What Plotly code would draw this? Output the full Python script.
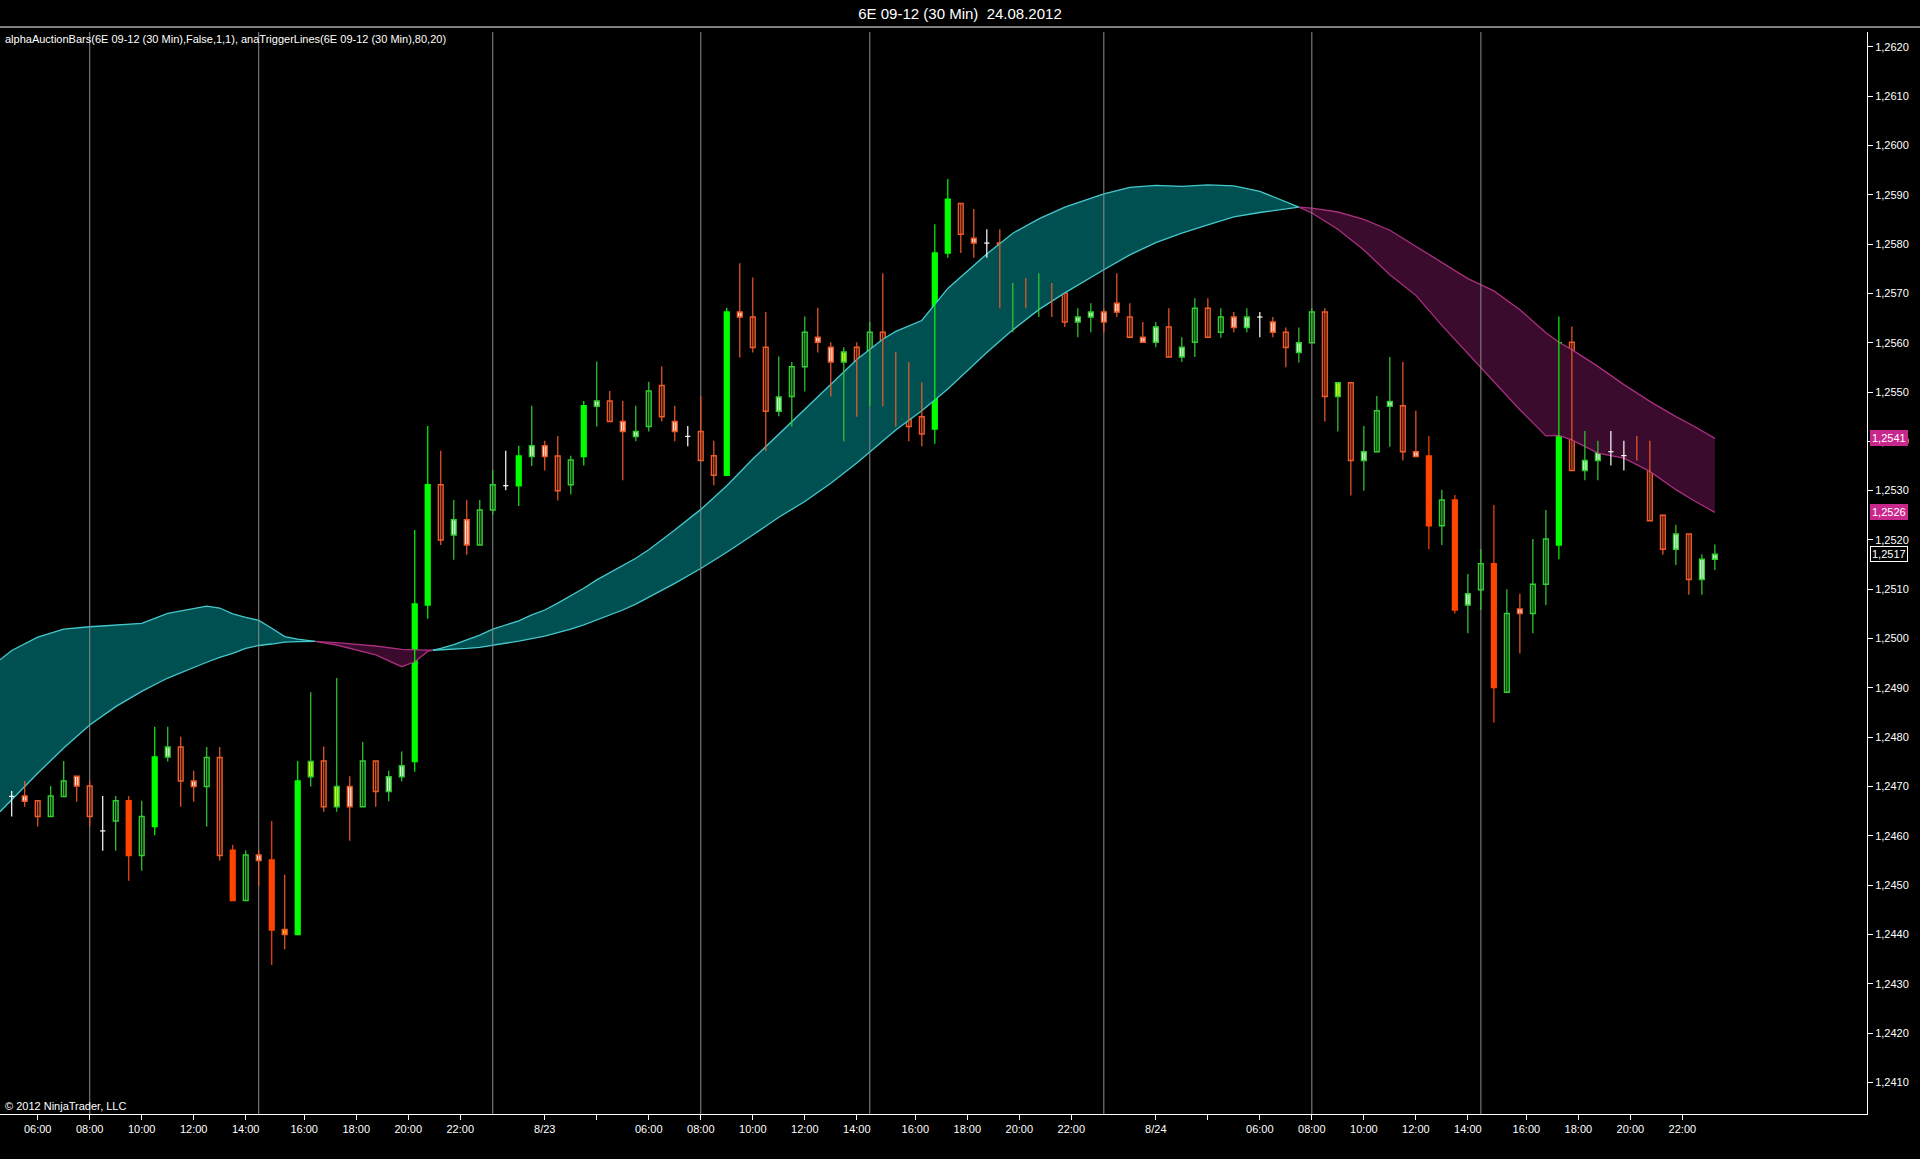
import plotly.graph_objects as go

# ---- data (30 min bars, index 0 = 22.08 05:00) ----
opens = [1.24680, 1.24681, 1.24671, 1.24639, 1.24680, 1.24721, 1.24701, 1.24610, 1.24630, 1.24671,
         1.24560, 1.24619, 1.24760, 1.24780, 1.24711, 1.24700, 1.24759, 1.24571, 1.24469, 1.24561,
         1.24551, 1.24410, 1.24400, 1.24720, 1.24752, 1.24659, 1.24700, 1.24659, 1.24752, 1.24690,
         1.24720, 1.24751, 1.25068, 1.25312, 1.25210, 1.25241, 1.25190, 1.25261, 1.25310, 1.25310,
         1.25369, 1.25391, 1.25370, 1.25312, 1.25369, 1.25471, 1.25482, 1.25440, 1.25410, 1.25430,
         1.25513, 1.25440, 1.25410, 1.25420, 1.25371, 1.25331, 1.25662, 1.25652, 1.25591, 1.25461,
         1.25491, 1.25551, 1.25611, 1.25591, 1.25561, 1.25591, 1.25491, 1.25621, 1.25561, 1.25502,
         1.25450, 1.25425, 1.25782, 1.25882, 1.25812, 1.25802, 1.25802, 1.25670, 1.25711, 1.25680,
         1.25711, 1.25701, 1.25642, 1.25652, 1.25662, 1.25680, 1.25652, 1.25611, 1.25601, 1.25632,
         1.25571, 1.25601, 1.25670, 1.25621, 1.25652, 1.25631, 1.25652, 1.25642, 1.25621, 1.25580,
         1.25600, 1.25662, 1.25491, 1.25519, 1.25361, 1.25379, 1.25471, 1.25472, 1.25379, 1.25370,
         1.25229, 1.25281, 1.25068, 1.25099, 1.25152, 1.24891, 1.25060, 1.25051, 1.25110, 1.25190,
         1.25601, 1.25341, 1.25361, 1.25379, 1.25371, 1.25379, 1.25370, 1.25250, 1.25181, 1.25212,
         1.25120, 1.25161]

highs = [1.24691, 1.24711, 1.24671, 1.24701, 1.24752, 1.24721, 1.24711, 1.24681, 1.24681, 1.24681,
         1.24671, 1.24821, 1.24821, 1.24801, 1.24732, 1.24780, 1.24780, 1.24582, 1.24571, 1.24571,
         1.24630, 1.24521, 1.24752, 1.24891, 1.24781, 1.24920, 1.24721, 1.24791, 1.24752, 1.24732,
         1.24771, 1.25220, 1.25431, 1.25381, 1.25281, 1.25281, 1.25281, 1.25342, 1.25381, 1.25391,
         1.25472, 1.25401, 1.25411, 1.25371, 1.25482, 1.25562, 1.25502, 1.25482, 1.25472, 1.25521,
         1.25552, 1.25472, 1.25431, 1.25492, 1.25401, 1.25671, 1.25761, 1.25732, 1.25662, 1.25572,
         1.25561, 1.25653, 1.25671, 1.25601, 1.25591, 1.25601, 1.25642, 1.25741, 1.25581, 1.25561,
         1.25520, 1.25840, 1.25932, 1.25882, 1.25871, 1.25830, 1.25830, 1.25721, 1.25731, 1.25741,
         1.25721, 1.25701, 1.25670, 1.25680, 1.25668, 1.25741, 1.25680, 1.25642, 1.25642, 1.25670,
         1.25611, 1.25690, 1.25690, 1.25670, 1.25662, 1.25670, 1.25662, 1.25652, 1.25631, 1.25631,
         1.25670, 1.25670, 1.25519, 1.25519, 1.25431, 1.25492, 1.25571, 1.25561, 1.25462, 1.25411,
         1.25302, 1.25291, 1.25131, 1.25181, 1.25271, 1.25100, 1.25091, 1.25202, 1.25261, 1.25653,
         1.25633, 1.25421, 1.25401, 1.25421, 1.25401, 1.25411, 1.25401, 1.25250, 1.25231, 1.25212,
         1.25171, 1.25191]

lows = [1.24639, 1.24659, 1.24619, 1.24639, 1.24680, 1.24669, 1.24619, 1.24570, 1.24570, 1.24509,
        1.24529, 1.24601, 1.24751, 1.24659, 1.24669, 1.24619, 1.24550, 1.24469, 1.24469, 1.24499,
        1.24338, 1.24370, 1.24400, 1.24700, 1.24649, 1.24649, 1.24590, 1.24659, 1.24659, 1.24670,
        1.24710, 1.24730, 1.25040, 1.25190, 1.25160, 1.25170, 1.25190, 1.25251, 1.25301, 1.25269,
        1.25350, 1.25341, 1.25280, 1.25292, 1.25351, 1.25430, 1.25440, 1.25321, 1.25400, 1.25420,
        1.25440, 1.25400, 1.25390, 1.25361, 1.25311, 1.25331, 1.25570, 1.25580, 1.25380, 1.25451,
        1.25430, 1.25501, 1.25580, 1.25491, 1.25400, 1.25450, 1.25471, 1.25471, 1.25430, 1.25400,
        1.25390, 1.25395, 1.25772, 1.25782, 1.25772, 1.25772, 1.25670, 1.25621, 1.25670, 1.25652,
        1.25652, 1.25632, 1.25611, 1.25621, 1.25621, 1.25652, 1.25611, 1.25601, 1.25591, 1.25571,
        1.25561, 1.25571, 1.25611, 1.25610, 1.25621, 1.25621, 1.25611, 1.25611, 1.25550, 1.25560,
        1.25600, 1.25440, 1.25420, 1.25290, 1.25300, 1.25379, 1.25389, 1.25361, 1.25369, 1.25181,
        1.25190, 1.25051, 1.25011, 1.25058, 1.24830, 1.24891, 1.24970, 1.25011, 1.25068, 1.25161,
        1.25341, 1.25321, 1.25321, 1.25351, 1.25341, 1.25361, 1.25239, 1.25170, 1.25149, 1.25089,
        1.25089, 1.25139]

closes = [1.24680, 1.24670, 1.24639, 1.24681, 1.24711, 1.24701, 1.24639, 1.24610, 1.24671, 1.24560,
          1.24639, 1.24760, 1.24780, 1.24711, 1.24700, 1.24759, 1.24560, 1.24469, 1.24561, 1.24550,
          1.24409, 1.24400, 1.24711, 1.24751, 1.24659, 1.24700, 1.24659, 1.24752, 1.24690, 1.24720,
          1.24742, 1.25070, 1.25312, 1.25200, 1.25241, 1.25190, 1.25261, 1.25312, 1.25310, 1.25370,
          1.25391, 1.25369, 1.25300, 1.25362, 1.25472, 1.25482, 1.25440, 1.25420, 1.25420, 1.25502,
          1.25450, 1.25420, 1.25410, 1.25361, 1.25331, 1.25662, 1.25652, 1.25590, 1.25461, 1.25490,
          1.25551, 1.25621, 1.25601, 1.25561, 1.25581, 1.25481, 1.25621, 1.25570, 1.25491, 1.25430,
          1.25415, 1.25782, 1.25891, 1.25820, 1.25802, 1.25802, 1.25670, 1.25711, 1.25680, 1.25721,
          1.25701, 1.25642, 1.25652, 1.25662, 1.25642, 1.25662, 1.25611, 1.25601, 1.25632, 1.25571,
          1.25591, 1.25670, 1.25611, 1.25652, 1.25631, 1.25652, 1.25652, 1.25621, 1.25590, 1.25600,
          1.25662, 1.25491, 1.25519, 1.25361, 1.25379, 1.25462, 1.25481, 1.25379, 1.25369, 1.25229,
          1.25281, 1.25058, 1.25091, 1.25152, 1.24901, 1.25051, 1.25051, 1.25110, 1.25202, 1.25600,
          1.25341, 1.25361, 1.25379, 1.25379, 1.25371, 1.25369, 1.25239, 1.25181, 1.25212, 1.25120,
          1.25161, 1.25171]

# bar colouring of alphaAuctionBars (G/R filled, g/r hollow, W/w white body, Y/y yellow, X doji)
bar_style = ["X", "w", "r", "g", "g", "w", "r", "X", "g", "R",
             "g", "G", "W", "r", "w", "g", "r", "R", "g", "w",
             "R", "y", "G", "Y", "r", "Y", "w", "g", "r", "W",
             "W", "G", "G", "r", "W", "w", "g", "g", "X", "G",
             "W", "w", "r", "g", "G", "W", "r", "w", "W", "g",
             "r", "w", "X", "r", "r", "G", "w", "r", "r", "W",
             "g", "g", "w", "w", "Y", "r", "g", "r", "r", "r",
             "r", "G", "G", "r", "w", "X", "r", "W", "w", "W",
             "w", "r", "W", "W", "w", "w", "r", "w", "W", "r",
             "W", "g", "r", "g", "w", "W", "X", "w", "r", "W",
             "g", "r", "Y", "r", "W", "g", "W", "r", "w", "R",
             "g", "R", "W", "g", "R", "g", "w", "g", "g", "G",
             "r", "W", "W", "X", "X", "w", "r", "r", "W", "r",
             "W", "W"]

# anaTriggerLines(80,20): fast and slow line, sampled at bar positions
band_x = [-0.9, 0, 2, 4, 6, 8, 10, 12, 14, 15, 16, 17, 18, 19, 20, 21, 22, 23, 25, 28,
          30, 31, 32, 33, 34, 35, 36, 37, 38, 39, 40, 41, 42, 43, 44, 45, 46, 47, 48, 49,
          51, 53, 55, 57, 59, 61, 63, 65, 67, 68, 70, 72, 75, 77, 79, 81, 84, 86, 88, 90,
          92, 94, 96, 98, 99, 100, 102, 104, 106, 108, 110, 112, 114, 116, 118, 119, 120,
          122, 124, 126, 128, 129.5, 131]
fast_line = [1.24957, 1.24976, 1.25003, 1.25019, 1.25024, 1.25028, 1.25031, 1.25051, 1.25062, 1.25066,
             1.25062, 1.25050, 1.25043, 1.25037, 1.25021, 1.25004, 1.24999, 1.24996, 1.24987, 1.24967,
             1.24943, 1.24953, 1.24974, 1.24980, 1.24988, 1.24997, 1.25007, 1.25019, 1.25028, 1.25036,
             1.25048, 1.25058, 1.25072, 1.25087, 1.25102, 1.25119, 1.25134, 1.25148, 1.25163, 1.25180,
             1.25220, 1.25262, 1.25310, 1.25364, 1.25415, 1.25465, 1.25517, 1.25566, 1.25607, 1.25623,
             1.25645, 1.25710, 1.25780, 1.25822, 1.25851, 1.25875, 1.25902, 1.25915, 1.25919, 1.25917,
             1.25920, 1.25918, 1.25907, 1.25886, 1.25875, 1.25863, 1.25830, 1.25788, 1.25738, 1.25696,
             1.25635, 1.25578, 1.25521, 1.25464, 1.25411, 1.25412, 1.25403, 1.25376, 1.25366, 1.25339,
             1.25302, 1.25278, 1.25256]
slow_line = [1.24649, 1.24673, 1.24727, 1.24778, 1.24825, 1.24862, 1.24893, 1.24920, 1.24942, 1.24952,
             1.24962, 1.24970, 1.24980, 1.24986, 1.24989, 1.24993, 1.24994, 1.24995, 1.24992, 1.24985,
             1.24978, 1.24977, 1.24976, 1.24977, 1.24978, 1.24980, 1.24982, 1.24986, 1.24990, 1.24995,
             1.25000, 1.25005, 1.25012, 1.25019, 1.25028, 1.25038, 1.25048, 1.25058, 1.25070, 1.25084,
             1.25112, 1.25142, 1.25175, 1.25210, 1.25246, 1.25278, 1.25315, 1.25356, 1.25400, 1.25423,
             1.25462, 1.25506, 1.25580, 1.25626, 1.25667, 1.25701, 1.25748, 1.25778, 1.25803, 1.25822,
             1.25839, 1.25855, 1.25864, 1.25872, 1.25875, 1.25873, 1.25865, 1.25850, 1.25828, 1.25795,
             1.25763, 1.25730, 1.25705, 1.25667, 1.25620, 1.25601, 1.25586, 1.25552, 1.25515, 1.25481,
             1.25450, 1.25429, 1.25406]

# session marker lines (08:00, 14:30, 23:00) and x axis labels, in bar units
session_bars = [6, 19, 37, 53, 66, 84, 100, 113]
tick_pos = [2, 6, 10, 14, 18, 22.5, 26.5, 30.5, 34.5, 41, 45, 49, 53, 57, 61, 65, 69.5, 73.5,
            77.5, 81.5, 88, 92, 96, 100, 104, 108, 112, 116.5, 120.5, 124.5, 128.5]
tick_text = ["06:00", "08:00", "10:00", "12:00", "14:00", "16:00", "18:00", "20:00", "22:00",
             "8/23", "", "06:00", "08:00", "10:00", "12:00", "14:00", "16:00", "18:00", "20:00",
             "22:00", "8/24", "", "06:00", "08:00", "10:00", "12:00", "14:00", "16:00", "18:00",
             "20:00", "22:00"]
price_ticks = [1.241 + 0.001 * k for k in range(22)]

Y_MIN, Y_MAX = 1.24036, 1.26230
FONT = "Liberation Sans"

ORANGE = "#F05A28"
GREEN = "#32CD32"
styles = {
    # fill, outline
    "G": ("#00FF00", "#00FF00"),
    "g": ("#000000", GREEN),
    "R": ("#FF4500", "#FF4500"),
    "r": ("#000000", ORANGE),
    "W": ("#FFFFFF", GREEN),
    "w": ("#FFFFFF", ORANGE),
    "Y": ("#FFFF00", GREEN),
    "y": ("#FFD000", ORANGE),
}

fig = go.Figure()

# ---- trigger band: teal where fast > slow, magenta otherwise ----
def split_band(xs, a, b):
    segs = []
    sx, sa, sb = [xs[0]], [a[0]], [b[0]]
    up = a[0] >= b[0]
    for i in range(1, len(xs)):
        now_up = a[i] >= b[i]
        if now_up != up:
            d0 = a[i - 1] - b[i - 1]
            d1 = a[i] - b[i]
            t = d0 / (d0 - d1)
            xc = xs[i - 1] + t * (xs[i] - xs[i - 1])
            yc = a[i - 1] + t * (a[i] - a[i - 1])
            sx.append(xc); sa.append(yc); sb.append(yc)
            segs.append((up, sx, sa, sb))
            sx, sa, sb = [xc], [yc], [yc]
            up = now_up
        sx.append(xs[i]); sa.append(a[i]); sb.append(b[i])
    segs.append((up, sx, sa, sb))
    return segs

band_fill = {True: "#005052", False: "#3A0B2C"}
band_edge = {True: "#45C8CC", False: "#A8307E"}

segments = split_band(band_x, fast_line, slow_line)
for up, sx, sa, sb in segments:
    fig.add_trace(go.Scatter(x=sx + sx[::-1], y=sa + sb[::-1], fill="toself",
                             fillcolor=band_fill[up], line=dict(width=0),
                             mode="lines", hoverinfo="skip"))

for flag in (True, False):
    lx, ly = [], []
    for up, sx, sa, sb in segments:
        if up == flag:
            lx += sx + [None] + sx + [None]
            ly += sa + [None] + sb + [None]
    fig.add_trace(go.Scatter(x=lx, y=ly, mode="lines",
                             line=dict(color=band_edge[flag], width=1.3), hoverinfo="skip"))

# ---- session lines ----
vx, vy = [], []
for s in session_bars:
    vx += [s, s, None]
    vy += [Y_MIN, Y_MAX, None]
fig.add_trace(go.Scatter(x=vx, y=vy, mode="lines", line=dict(color="#8C8C8C", width=1),
                         hoverinfo="skip"))

# ---- wicks ----
wick_colors = {"X": "#FFFFFF"}
for k, (fill, edge) in styles.items():
    wick_colors[k] = edge
by_color = {}
for i, st in enumerate(bar_style):
    c = wick_colors[st]
    wx, wy = by_color.setdefault(c, ([], []))
    wx += [i, i, None]
    wy += [lows[i], highs[i], None]
    if st == "X":
        wx += [i - 0.2, i + 0.2, None]
        wy += [closes[i], closes[i], None]
for c, (wx, wy) in by_color.items():
    fig.add_trace(go.Scatter(x=wx, y=wy, mode="lines", line=dict(color=c, width=1.2),
                             hoverinfo="skip"))

# ---- bodies ----
for k, (fill, edge) in styles.items():
    idx = [i for i, st in enumerate(bar_style) if st == k]
    if not idx:
        continue
    base = [min(opens[i], closes[i]) for i in idx]
    height = [max(abs(closes[i] - opens[i]), 0.00004) for i in idx]
    fig.add_trace(go.Bar(x=idx, y=height, base=base, width=0.36,
                         marker=dict(color=fill, line=dict(color=edge, width=1.5)),
                         hoverinfo="skip"))

# ---- price markers on the axis ----
markers = [(slow_line[-1], "#C8288C", "#C8288C"),
           (fast_line[-1], "#C8288C", "#C8288C"),
           (closes[-1], "#000000", "#FFFFFF")]
annotations = []
for val, bg, border in markers:
    annotations.append(dict(x=1, xref="paper", y=val, yref="y", xanchor="left", yanchor="middle",
                            xshift=3, text=f"{val:.4f}".replace(".", ","), showarrow=False,
                            bgcolor=bg, bordercolor=border, borderwidth=1, borderpad=1,
                            font=dict(family=FONT, size=11, color="#FFFFFF")))

annotations.append(dict(x=0.0015, xref="paper", y=0.9935, yref="paper", xanchor="left",
                        yanchor="middle", showarrow=False,
                        text="alphaAuctionBars(6E 09-12 (30 Min),False,1,1), "
                             "anaTriggerLines(6E 09-12 (30 Min),80,20)",
                        font=dict(family=FONT, size=11, color="#FFFFFF")))
annotations.append(dict(x=0.0015, xref="paper", y=0.007, yref="paper", xanchor="left",
                        yanchor="middle", showarrow=False, text="© 2012 NinjaTrader, LLC",
                        font=dict(family=FONT, size=11, color="#FFFFFF")))

fig.update_layout(
    width=1920, height=1159,
    margin=dict(l=0, r=53, t=32, b=45),
    paper_bgcolor="#000000", plot_bgcolor="#000000",
    showlegend=False, barmode="overlay", separators=",.",
    title=dict(text="6E 09-12 (30 Min)  24.08.2012", x=0.5, xanchor="center",
               y=0.9885, yanchor="middle", font=dict(family=FONT, size=15, color="#FFFFFF")),
    annotations=annotations,
    shapes=[dict(type="line", xref="paper", yref="paper", x0=0, x1=1.03, y0=1.0046, y1=1.0046,
                 line=dict(color="#FFFFFF", width=1))],
    xaxis=dict(range=[-0.9, 142.7], showgrid=False, zeroline=False, showline=True,
               linecolor="#FFFFFF", linewidth=1, ticks="outside", ticklen=5, tickcolor="#FFFFFF",
               tickvals=tick_pos, ticktext=tick_text,
               tickfont=dict(family=FONT, size=11, color="#FFFFFF")),
    yaxis=dict(range=[Y_MIN, Y_MAX], side="right", showgrid=False, zeroline=False,
               showline=True, linecolor="#FFFFFF", linewidth=1, ticks="outside", ticklen=5,
               tickcolor="#FFFFFF", tickvals=price_ticks, tickformat=".4f",
               tickfont=dict(family=FONT, size=11, color="#FFFFFF")),
)

# page has no white body margin around the black chart, and no plotly toolbar
fig.write_html("out.html", config={"displayModeBar": False},
               post_script="document.body.style.margin='0';"
                           "document.body.style.background='#000000';")
